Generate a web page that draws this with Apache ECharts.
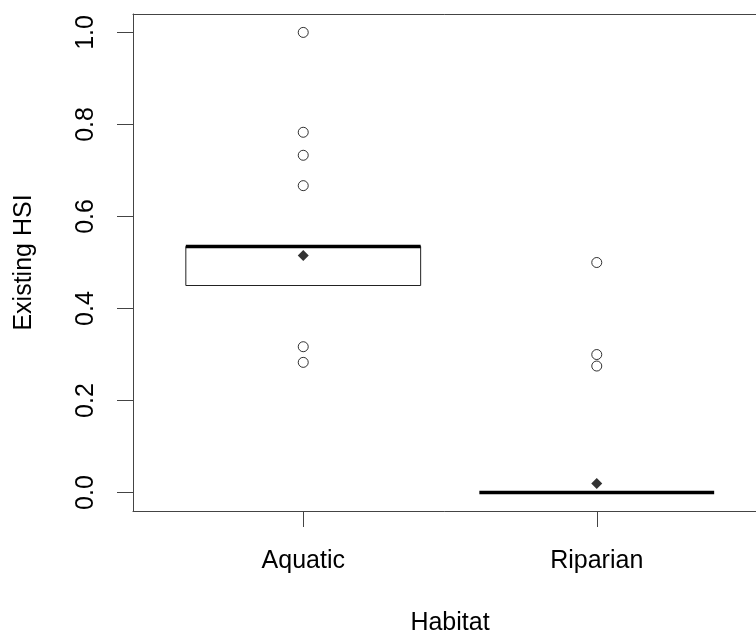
<!DOCTYPE html>
<html>
<head>
<meta charset="utf-8">
<script src="https://cdn.jsdelivr.net/npm/echarts@6/dist/echarts.min.js"></script>
<style>
html,body{margin:0;padding:0;background:#fff;}
#chart{width:756px;height:632px;}
</style>
</head>
<body>
<div id="chart"></div>
<script>
// ---- data ----
var categories = ['Aquatic', 'Riparian'];
var whiskerLow = [0.45, 0.0];
var q1 = [0.45, 0.0];
var medians = [0.535, 0.0];
var q3 = [0.535, 0.0];
var whiskerHigh = [0.535, 0.0];
var means = [0.515, 0.02];
var outliersAquatic = [1.0, 0.783, 0.733, 0.667, 0.317, 0.283];
var outliersRiparian = [0.5, 0.3, 0.275];
var yTicks = [0, 0.2, 0.4, 0.6, 0.8, 1.0];
var xTicks = [1, 2];

var FONT = "'Liberation Sans', Arial, sans-serif";
var AXIS_COLOR = '#444';

var boxData = categories.map(function (c, i) {
  return [i + 1, whiskerLow[i], q1[i], medians[i], q3[i], whiskerHigh[i]];
});
var meanData = categories.map(function (c, i) { return [i + 1, means[i]]; });
var outlierData = [];
outliersAquatic.forEach(function (v) { outlierData.push([1, v]); });
outliersRiparian.forEach(function (v) { outlierData.push([2, v]); });

var chart = echarts.init(document.getElementById('chart'), null, {renderer: 'canvas'});

chart.setOption({
  animation: false,
  backgroundColor: '#fff',
  grid: {
    left: 133, top: 14, width: 634, height: 497,
    containLabel: false, outerBoundsMode: 'none',
    show: false
  },
  xAxis: [{
    type: 'value', min: 0.42, max: 2.58,
    name: 'Habitat', nameLocation: 'middle', nameGap: 100,
    nameTextStyle: {fontFamily: FONT, fontSize: 25, color: '#000'},
    axisLine: {show: true, onZero: false, lineStyle: {color: AXIS_COLOR, width: 1}},
    axisTick: {show: true, length: 16, customValues: xTicks, lineStyle: {color: AXIS_COLOR, width: 1}},
    axisLabel: {
      customValues: xTicks, margin: 38,
      fontFamily: FONT, fontSize: 25, color: '#000',
      formatter: function (v) { return categories[Math.round(v) - 1] || ''; }
    },
    splitLine: {show: false}
  }, {
    type: 'value', min: 0.42, max: 2.58, position: 'top',
    axisLine: {show: true, onZero: false, lineStyle: {color: AXIS_COLOR, width: 1}},
    axisTick: {show: false},
    axisLabel: {show: false},
    splitLine: {show: false}
  }],
  yAxis: {
    type: 'value', min: -0.04, max: 1.04,
    name: 'Existing HSI', nameLocation: 'middle', nameGap: 96, nameRotate: 90,
    nameTextStyle: {fontFamily: FONT, fontSize: 25, color: '#000'},
    axisLine: {show: true, onZero: false, lineStyle: {color: AXIS_COLOR, width: 1}},
    axisTick: {show: true, length: 16, customValues: yTicks, lineStyle: {color: AXIS_COLOR, width: 1}},
    axisLabel: {
      customValues: yTicks, rotate: 90, margin: 34,
      fontFamily: FONT, fontSize: 25, color: '#000',
      formatter: function (v) { return v.toFixed(1); }
    },
    splitLine: {show: false}
  },
  series: [
    {
      type: 'custom',
      name: 'box',
      data: boxData,
      encode: {x: 0, y: [1, 2, 3, 4, 5]},
      renderItem: function (params, api) {
        var x = api.value(0);
        var half = 0.4;
        var wl = api.value(1), b1 = api.value(2), md = api.value(3), b3 = api.value(4), wh = api.value(5);
        var pL = api.coord([x - half, b3]);
        var pR = api.coord([x + half, b1]);
        var children = [];
        if (b3 > b1) {
          children.push({
            type: 'rect',
            shape: {x: pL[0], y: pL[1], width: pR[0] - pL[0], height: pR[1] - pL[1]},
            style: {fill: '#fff', stroke: '#222', lineWidth: 1}
          });
        }
        var c = api.coord([x, 0])[0];
        if (wh > b3) {
          var a = api.coord([x, b3]), b = api.coord([x, wh]);
          children.push({type: 'line', shape: {x1: c, y1: a[1], x2: c, y2: b[1]}, style: {stroke: '#222', lineWidth: 1, lineDash: [4, 3]}});
        }
        if (wl < b1) {
          var a2 = api.coord([x, b1]), b2 = api.coord([x, wl]);
          children.push({type: 'line', shape: {x1: c, y1: a2[1], x2: c, y2: b2[1]}, style: {stroke: '#222', lineWidth: 1, lineDash: [4, 3]}});
        }
        var m = api.coord([x, md]);
        children.push({
          type: 'line',
          shape: {x1: pL[0], y1: m[1], x2: pR[0], y2: m[1]},
          style: {stroke: '#000', lineWidth: 3.5}
        });
        return {type: 'group', children: children};
      },
      z: 2
    },
    {
      type: 'scatter',
      name: 'outliers',
      data: outlierData,
      symbol: 'circle',
      symbolSize: 10,
      itemStyle: {color: '#fff', borderColor: '#000', borderWidth: 1},
      z: 3
    },
    {
      type: 'scatter',
      name: 'mean',
      data: meanData,
      symbol: 'diamond',
      symbolSize: [11, 11],
      itemStyle: {color: '#000'},
      z: 4
    }
  ]
});
</script>
</body>
</html>
